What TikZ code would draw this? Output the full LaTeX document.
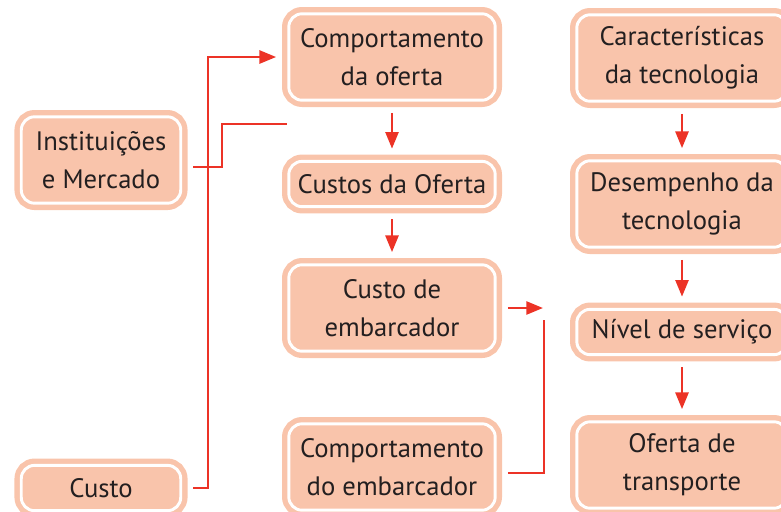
\documentclass[tikz,border=0pt]{standalone}
\usepackage{fontspec}
\setmainfont{PT Sans}
\usepackage{tikz}
\usetikzlibrary{positioning}
\usetikzlibrary{arrows.meta}
\definecolor{boxColor}{RGB}{249,196,171}
\definecolor{edgeColor}{RGB}{236,51,38}
\definecolor{textColor}{RGB}{35,31,32}

\begin{document}
\begin{tikzpicture}[x=0.75pt,y=-0.75pt]

          \tikzstyle{boxNode} = [fill=boxColor, draw=boxColor, line width=4pt, double=white, double distance=2.2pt, rounded corners=10pt, inner sep=0pt, outer sep=9.5pt, align=center, text=textColor, font=\fontsize{20}{28.5}\selectfont];
          \tikzstyle{leftCol} = [minimum width=119.6pt];
          \tikzstyle{midCol} = [minimum width=154.8pt];
          \tikzstyle{rightCol} = [minimum width=157.8pt];
          \tikzstyle{twoLine} = [minimum height=64.8pt];
          \tikzstyle{oneLine} = [minimum height=34pt];

          \tikzstyle{flowEdge} = [line width=1.9pt, edgeColor];
          \tikzstyle{flowArrow} = [flowEdge, -{Triangle[length=12.5pt, width=9.75pt]}];

          \useasboundingbox (0,0) rectangle (781,511);
          \clip (0,0) rectangle (781,511);

          \node[boxNode, leftCol, twoLine] (inst) at (101,160) {Instituições\\e Mercado};
          \node[boxNode, leftCol, oneLine] (custo) at (101,488) {Custo};
          \node[boxNode, midCol, twoLine] (compOferta) at (392,57) {Comportamento\\da oferta};
          \node[boxNode, midCol, oneLine] (custosOferta) at (392,184) {Custos da Oferta};
          \node[boxNode, midCol, twoLine] (custoEmb) at (392,308) {Custo de\\embarcador};
          \node[boxNode, midCol, twoLine] (compEmb) at (392,467) {Comportamento\\do embarcador};
          \node[boxNode, rightCol, twoLine] (caract) at (682,58) {Características\\da tecnologia};
          \node[boxNode, rightCol, twoLine] (desemp) at (682,204) {Desempenho da\\tecnologia};
          \node[boxNode, rightCol, oneLine] (nivel) at (682,332) {Nível de serviço};
          \node[boxNode, rightCol, twoLine] (ofertaTransp) at (682,465) {Oferta de\\transporte};

          \coordinate (bendCusto) at (208,57);
          \coordinate (bendInst) at (222,124);
          \coordinate (endInst) at (287,124);
          \coordinate (tipEmb) at (543,308);
          \coordinate (topEmb) at (544,320);

          \draw[flowArrow] (compOferta) -- (custosOferta);
          \draw[flowArrow] (custosOferta) -- (custoEmb);
          \draw[flowArrow] (caract) -- (desemp);
          \draw[flowArrow] (desemp) -- (nivel);
          \draw[flowArrow] (nivel) -- (ofertaTransp);
          \draw[flowArrow] (custo.east) -| (bendCusto) -- (compOferta.west);
          \draw[flowEdge] ([yshift=-5.25pt]inst.east) -| (bendInst) -- (endInst);
          \draw[flowArrow] (custoEmb.east) -- (tipEmb);
          \draw[flowEdge] ([yshift=-4.5pt]compEmb.east) -| (topEmb);
        \end{tikzpicture}
\end{document}
